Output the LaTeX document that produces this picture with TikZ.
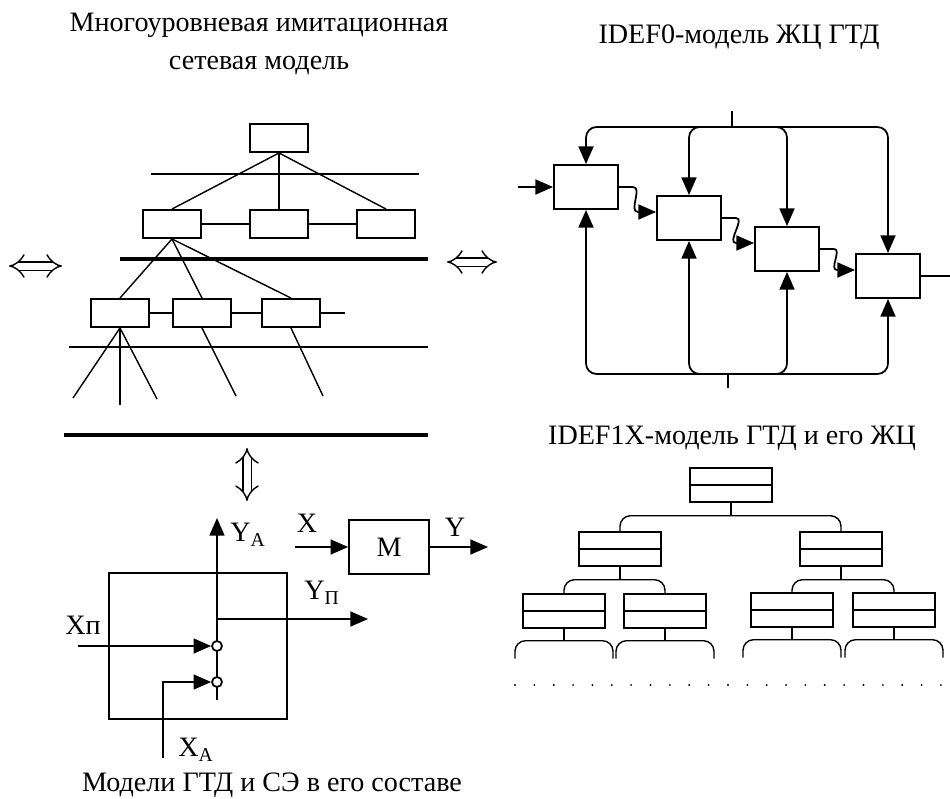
\documentclass[tikz,border=0pt]{standalone}
\usepackage{fontspec}
\setmainfont{Liberation Serif}
\usetikzlibrary{arrows.meta,calc}

\begin{document}
\begin{tikzpicture}[x=0.02cm,y=-0.02cm,
  font=\fontsize{16}{22}\selectfont,
  >={Triangle[length=10pt,width=8.5pt]},
  netbox/.style={draw,line width=1.1pt,minimum width=1.16cm,minimum height=0.56cm,inner sep=0pt},
  funcbox/.style={draw,line width=1.1pt,minimum width=1.28cm,minimum height=0.88cm,inner sep=0pt},
  entity/.style={draw,line width=0.8pt,minimum width=1.64cm,minimum height=0.68cm,inner sep=0pt},
  level/.style={line width=0.6pt},
  bound/.style={line width=1.8pt},
  link/.style={line width=0.8pt},
  wire/.style={line width=1pt},
  dblarrow/.style={double,double distance=0.14cm,line width=0.8pt,{Implies}-{Implies}}]
  \useasboundingbox (0,0) rectangle (950,798);
  % titles
  \node (nettitle) [align=center] at (259,44) {Многоуровневая имитационная\\сетевая модель};
  \node (idef0title) at (739,37) {IDEF0-модель ЖЦ ГТД};
  \node (idef1title) at (732,438) {IDEF1X-модель ГТД и его ЖЦ};
  \node (setitle) at (272,785) {Модели ГТД и СЭ в его составе};
  % network model: level lines
  \draw[level] (151,174) -- (419,174);
  \draw[bound] (120,259) -- (428,259);
  \draw[level] (69,347) -- (428,347);
  \draw[bound] (64,435) -- (428,435);
  % network model: nodes
  \node[netbox] (n0) at (279,138) {};
  \node[netbox] (n1) at (172,224) {};
  \node[netbox] (n2) at (279,224) {};
  \node[netbox] (n3) at (386,224) {};
  \node[netbox] (n4) at (120,313) {};
  \node[netbox] (n5) at (202,313) {};
  \node[netbox] (n6) at (291,313) {};
  \foreach \c in {n1,n2,n3} \draw[link] (n0.south) -- (\c.north);
  \foreach \c in {n4,n5,n6} \draw[link] (n1.south) -- (\c.north);
  \draw[link] (n1) -- (n2);
  \draw[link] (n2) -- (n3);
  \draw[link] (n4) -- (n5);
  \draw[link] (n5) -- (n6);
  \coordinate (n6r) at (345,313);
  \draw[link] (n6) -- (n6r);
  % network model: open branches
  \coordinate (l1) at (73,398);
  \coordinate (l2) at (120,405);
  \coordinate (l3) at (157,399);
  \coordinate (l4) at (236,396);
  \coordinate (l5) at (323,396);
  \foreach \e in {l1,l2,l3} \draw[link] (n4.south) -- (\e);
  \draw[link] (n5.south) -- (l4);
  \draw[link] (n6.south) -- (l5);
  % equivalence arrows
  \coordinate (dla) at (9,266);   \coordinate (dlb) at (62,266);
  \coordinate (dra) at (447,262); \coordinate (drb) at (497,262);
  \coordinate (dva) at (247,448); \coordinate (dvb) at (247,501);
  \draw[dblarrow] (dla) -- (dlb);
  \draw[dblarrow] (dra) -- (drb);
  \draw[dblarrow] (dva) -- (dvb);
  % IDEF0 model
  \node[funcbox] (f1) at (586,187) {};
  \node[funcbox] (f2) at (689,218) {};
  \node[funcbox] (f3) at (787,249) {};
  \node[funcbox] (f4) at (888,276) {};
  \coordinate (ctl) at (732,127);  \coordinate (ctltop) at (732,111);
  \coordinate (mech) at (728,374); \coordinate (mechbot) at (728,388);
  \draw[wire] (ctltop) -- (ctl);
  \draw[wire] (mech) -- (mechbot);
  \foreach \f in {f1,f2,f3,f4} {
    \draw[wire,->,rounded corners=6pt] (ctl) -| (\f.north);
    \draw[wire,->,rounded corners=6pt] (mech) -| (\f.south);
  }
  \coordinate (fin) at (518,187);
  \coordinate (fout) at (950,276);
  \draw[wire,->] (fin) -- (f1.west);
  \draw[wire] (f4.east) -- (fout);
  \foreach \a/\b in {f1/f2,f2/f3,f3/f4}
    \draw[wire,->] (\a.east) -- ++(14,0) to[out=0,in=180] ($(\b.west)+(-18,-6)$) -- ($(\b.west)+(0,-6)$);
  % IDEF1X model
  \node[entity] (e0) at (731,485) {};
  \node[entity] (e1) at (620,549) {};
  \node[entity] (e2) at (841,549) {};
  \node[entity] (e3) at (564,611) {};
  \node[entity] (e4) at (665,611) {};
  \node[entity] (e5) at (792,610) {};
  \node[entity] (e6) at (894,610) {};
  \foreach \n in {e0,e1,e2,e3,e4,e5,e6} \draw[line width=1.3pt] (\n.west) -- (\n.east);
  \foreach \p/\l/\r in {e0/e1/e2,e1/e3/e4,e2/e5/e6} {
    \draw[link] (\p.south) -- ++(0,13) coordinate (\p-j);
    \draw[link,rounded corners=6pt] (\l.north) |- (\p-j) -| (\r.north);
  }
  \foreach \n in {e3,e4,e5,e6} {
    \draw[link] (\n.south) -- ++(0,12) coordinate (\n-j);
    \draw[link,rounded corners=6pt] ($(\n-j)+(-49,18)$) |- (\n-j) -| ($(\n-j)+(49,18)$);
  }
  \foreach \i in {0,...,22} \fill (515+\i*19.36,685) circle (0.6pt);
  % element model
  \node[draw,wire,minimum width=3.56cm,minimum height=2.92cm,inner sep=0pt] (se) at (198,646) {};
  \coordinate (ya0) at (217,700); \coordinate (ya) at (217,518);
  \draw[wire,->] (ya0) -- (ya);
  \node[circle,draw,wire,fill=white,minimum size=0.2cm,inner sep=0pt] (c1) at (217,646) {};
  \node[circle,draw,wire,fill=white,minimum size=0.2cm,inner sep=0pt] (c2) at (217,682) {};
  \coordinate (jn) at (217,619); \coordinate (yp) at (368,619);
  \draw[wire,->] (jn) -- (yp);
  \coordinate (xp) at (78,646);
  \draw[wire,->] (xp) -- (c1.west);
  \coordinate (xa) at (163,758);
  \draw[wire,->] (xa) |- (c2.west);
  \node (lya) at (248,535) {Y\textsubscript{A}};
  \node (lyp) at (322,593) {Y\textsubscript{П}};
  \node (lxp) at (83,625) {Xп};
  \node (lxa) at (196,750) {X\textsubscript{A}};
  % black box
  \node[draw,wire,minimum width=1.6cm,minimum height=1.08cm] (m) at (389,547) {М};
  \coordinate (xin) at (295,547); \coordinate (yout) at (488,547);
  \draw[wire,->] (xin) -- (m.west);
  \draw[wire,->] (m.east) -- (yout);
  \node (lx) at (307,523) {X};
  \node (ly) at (455,527) {Y};
\end{tikzpicture}
\end{document}
